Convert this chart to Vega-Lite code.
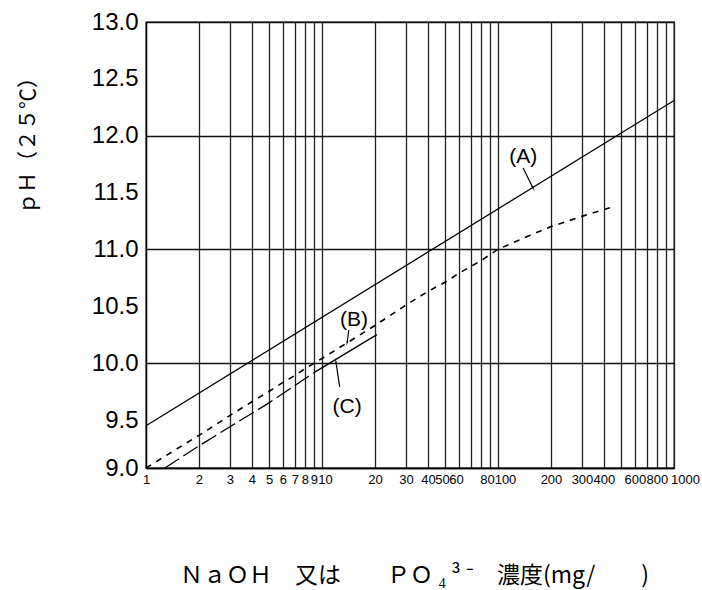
{
  "$schema": "https://vega.github.io/schema/vega-lite/v6.json",
  "width": 528,
  "height": 446,
  "autosize": {"type": "none"},
  "padding": {"left": 146, "top": 22, "right": 28, "bottom": 122},
  "background": "white",
  "datasets": {
    "curves": [
      {"series": "A", "x": 1, "ph": 9.44},
      {"series": "A", "x": 1000, "ph": 12.31},
      {"series": "B", "x": 1, "ph": 9.0},
      {"series": "B", "x": 1.5, "ph": 9.2},
      {"series": "B", "x": 2, "ph": 9.34},
      {"series": "B", "x": 3, "ph": 9.54},
      {"series": "B", "x": 4, "ph": 9.66},
      {"series": "B", "x": 5, "ph": 9.75},
      {"series": "B", "x": 6, "ph": 9.83},
      {"series": "B", "x": 7, "ph": 9.89},
      {"series": "B", "x": 8, "ph": 9.95},
      {"series": "B", "x": 10, "ph": 10.04},
      {"series": "B", "x": 20, "ph": 10.33},
      {"series": "B", "x": 30, "ph": 10.51},
      {"series": "B", "x": 40, "ph": 10.63},
      {"series": "B", "x": 50, "ph": 10.71},
      {"series": "B", "x": 60, "ph": 10.79},
      {"series": "B", "x": 80, "ph": 10.9},
      {"series": "B", "x": 100, "ph": 11.0},
      {"series": "B", "x": 150, "ph": 11.12},
      {"series": "B", "x": 200, "ph": 11.2},
      {"series": "B", "x": 300, "ph": 11.29},
      {"series": "B", "x": 440, "ph": 11.37},
      {"series": "C", "x": 1.28, "ph": 9.0},
      {"series": "C", "x": 2, "ph": 9.23},
      {"series": "C", "x": 3, "ph": 9.43},
      {"series": "C", "x": 5, "ph": 9.65},
      {"series": "C", "x": 9.1, "ph": 9.92},
      {"series": "C", "x": 20.5, "ph": 10.25}
    ],
    "labels": [
      {"label": "(A)", "x": 139, "ph": 11.81},
      {"label": "(B)", "x": 15.2, "ph": 10.38},
      {"label": "(C)", "x": 13.9, "ph": 9.614}
    ],
    "arrows": [
      {"label": "A", "xs": 139, "phs": 11.716, "x": 158, "ph": 11.54},
      {"label": "B", "xs": 14.2, "phs": 10.29, "x": 13.9, "ph": 10.18},
      {"label": "C", "xs": 12.6, "phs": 9.79, "x": 12.0, "ph": 10.01}
    ]
  },
  "encoding": {
    "x": {
      "field": "x",
      "type": "quantitative",
      "scale": {"type": "log", "domain": [1, 1000], "nice": false},
      "axis": {
        "title": "ＮａＯＨ　又は　　ＰＯ ₄ ³ ⁻　濃度(mg/　　)",
        "titleFont": "Noto Sans CJK JP",
        "titleFontSize": 23,
        "titleFontWeight": "normal",
        "titleColor": "black",
        "titleX": 268,
        "titleY": 107,
        "titleAlign": "center",
        "titleBaseline": "middle",
        "values": [1, 2, 3, 4, 5, 6, 7, 8, 9, 10, 20, 30, 40, 50, 60, 70, 80, 90, 100, 200, 300, 400, 500, 600, 700, 800, 900, 1000],
        "labelExpr": "indexof([70, 90, 500, 700, 900], datum.value) >= 0 ? '' : format(datum.value, 'd')",
        "labelFont": "Liberation Sans",
        "labelFontSize": 13,
        "labelColor": "black",
        "labelPadding": 5,
        "labelOverlap": false,
        "labelFlush": false,
        "labelOffset": {
          "condition": [
            {"test": "datum.value === 10", "value": 3},
            {"test": "datum.value === 50", "value": -3},
            {"test": "datum.value === 60", "value": -3},
            {"test": "datum.value === 80", "value": 6},
            {"test": "datum.value === 100", "value": 7},
            {"test": "datum.value === 1000", "value": 11}
          ],
          "value": 0
        },
        "ticks": false,
        "grid": true,
        "gridColor": "#222",
        "gridWidth": 1.3,
        "domainColor": "black",
        "domainWidth": 1.3
      }
    },
    "y": {
      "field": "ph",
      "type": "quantitative",
      "scale": {"domain": [9, 9.5, 10, 13], "range": [446, 398, 341, 0], "zero": false, "nice": false},
      "axis": {
        "title": "ｐＨ（２５℃）",
        "titleFont": "Noto Sans CJK JP",
        "titleFontSize": 21,
        "titleFontWeight": "normal",
        "titleColor": "black",
        "titleAngle": -90,
        "titleX": -118,
        "titleY": 118,
        "titleAlign": "center",
        "titleBaseline": "middle",
        "values": [9, 9.5, 10, 10.5, 11, 11.5, 12, 12.5, 13],
        "format": ".1f",
        "labelFont": "Liberation Sans",
        "labelFontSize": 24,
        "labelColor": "black",
        "labelPadding": 8,
        "labelOverlap": false,
        "labelFlush": false,
        "ticks": false,
        "grid": true,
        "gridColor": "#111",
        "gridWidth": 1.3,
        "gridOpacity": {"condition": {"test": "datum.value % 1 === 0", "value": 1}, "value": 0},
        "domainColor": "black",
        "domainWidth": 1.3
      }
    }
  },
  "layer": [
    {
      "data": {"name": "curves"},
      "transform": [{"filter": "datum.series === 'A'"}],
      "mark": {"type": "line", "color": "black", "strokeWidth": 1.3}
    },
    {
      "data": {"name": "curves"},
      "transform": [{"filter": "datum.series === 'B'"}],
      "mark": {"type": "line", "color": "black", "strokeWidth": 1.6, "strokeDash": [6, 6]}
    },
    {
      "data": {"name": "curves"},
      "transform": [{"filter": "datum.series === 'C' && datum.x <= 9.1"}],
      "mark": {"type": "line", "color": "black", "strokeWidth": 1.3, "strokeDash": [17, 5]}
    },
    {
      "data": {"name": "curves"},
      "transform": [{"filter": "datum.series === 'C' && datum.x >= 9.1"}],
      "mark": {"type": "line", "color": "black", "strokeWidth": 1.3}
    },
    {
      "data": {"name": "arrows"},
      "mark": {"type": "rule", "color": "black", "strokeWidth": 1.2},
      "encoding": {
        "x2": {"field": "xs"},
        "y2": {"field": "phs"}
      }
    },
    {
      "data": {"name": "arrows"},
      "transform": [{"filter": "datum.label === 'A'"}],
      "mark": {"type": "point", "shape": "wedge", "filled": true, "color": "black", "opacity": 1, "size": 45, "angle": 153}
    },
    {
      "data": {"name": "arrows"},
      "transform": [{"filter": "datum.label === 'B'"}],
      "mark": {"type": "point", "shape": "wedge", "filled": true, "color": "black", "opacity": 1, "size": 45, "angle": 189}
    },
    {
      "data": {"name": "arrows"},
      "transform": [{"filter": "datum.label === 'C'"}],
      "mark": {"type": "point", "shape": "wedge", "filled": true, "color": "black", "opacity": 1, "size": 45, "angle": 351}
    },
    {
      "data": {"name": "labels"},
      "mark": {"type": "text", "font": "Liberation Sans", "fontSize": 21, "color": "black", "align": "center", "baseline": "middle"},
      "encoding": {
        "text": {"field": "label", "type": "nominal"}
      }
    }
  ],
  "config": {
    "view": {"stroke": "black", "strokeWidth": 1.3}
  }
}
